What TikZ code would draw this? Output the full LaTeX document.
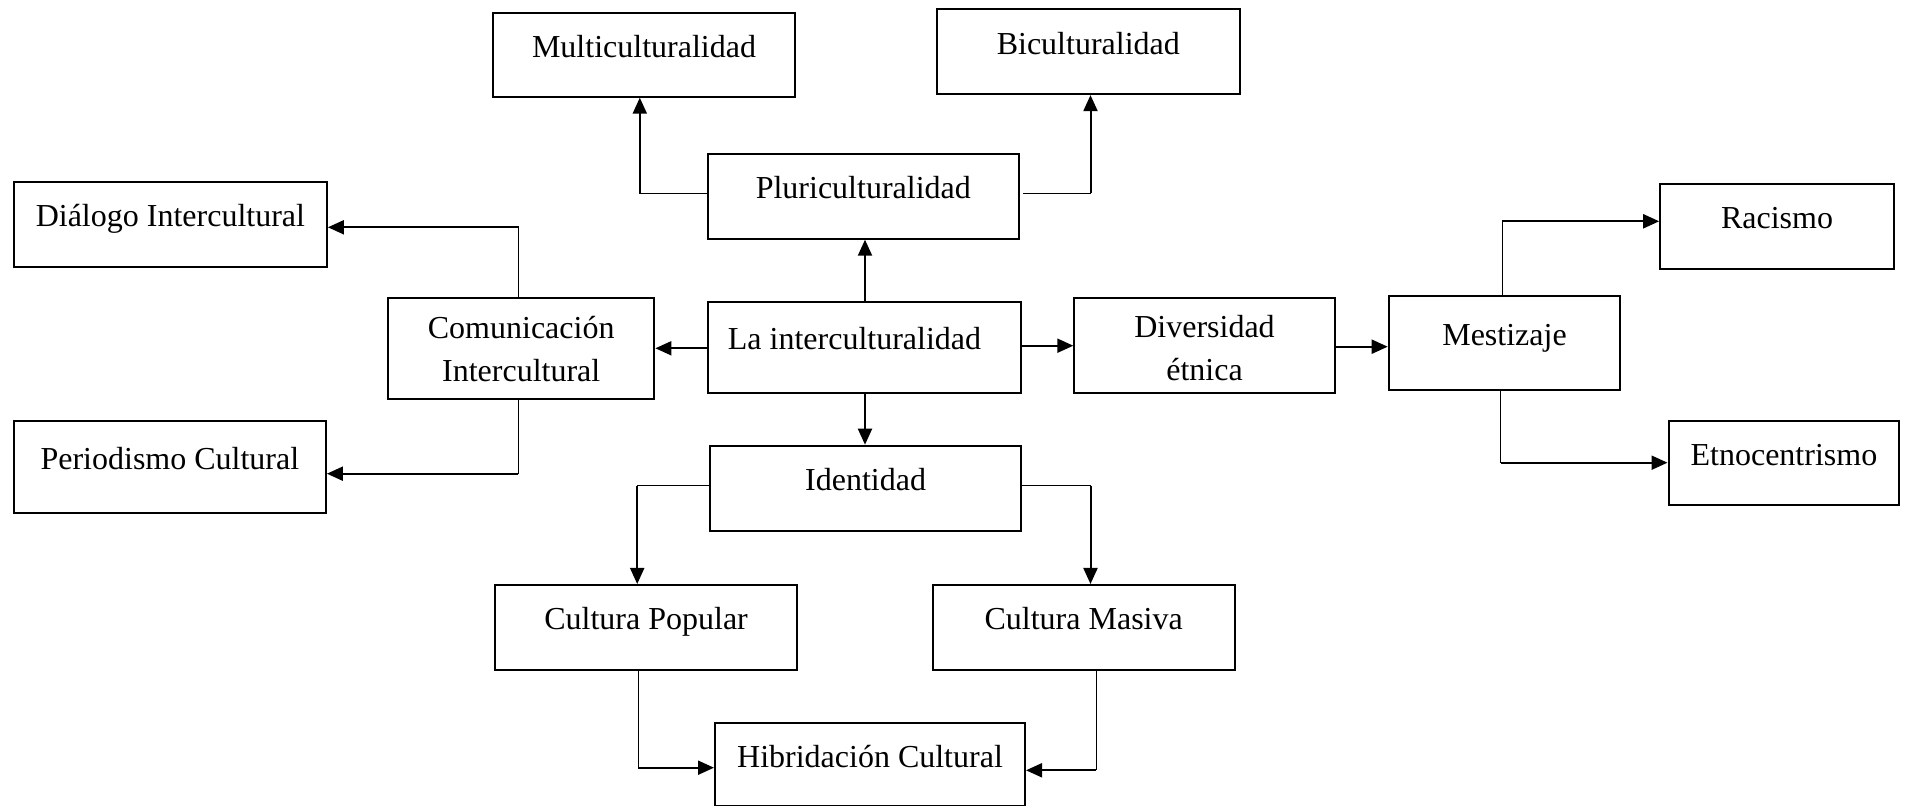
\documentclass[tikz,border=0pt]{standalone}
\usepackage{fontspec}
\setmainfont{Liberation Serif}
\usetikzlibrary{arrows.meta}

\tikzset{
  boxbase/.style={draw, line width=1pt, rectangle, inner sep=0pt,
    font=\fontsize{16}{21.5}\selectfont},
  box/.style={boxbase, text height=8pt, text depth=5.5pt},
  twoline/.style={boxbase, align=center},
  thinln/.style={line width=0.5pt},
  arrln/.style={line width=1pt, -{Triangle[length=8pt,width=7pt]}}
}

\begin{document}
\begin{tikzpicture}[x=0.5pt, y=-0.5pt]
\useasboundingbox (0,0) rectangle (1908,806);

% concept boxes
\node[box, minimum width=151pt, minimum height=42pt] (multi) at (644,54.7) {Multiculturalidad};
\node[box, minimum width=151.6pt, minimum height=42.4pt] (bicult) at (1088.3,51.7) {Biculturalidad};
\node[box, minimum width=155.3pt, minimum height=42.2pt] (pluri) at (863.3,196.5) {Pluriculturalidad};
\node[box, minimum width=156.5pt, minimum height=42.5pt] (dialogo) at (170.4,224.2) {Diálogo Intercultural};
\node[twoline, minimum width=133.2pt, minimum height=50.5pt] (comm) at (521.2,348.8) {Comunicación\\Intercultural};
\node[box, minimum width=156.5pt, minimum height=45.8pt] (inter) at (864.2,347.5) {La interculturalidad\hspace*{9.7pt}};
\node[twoline, minimum width=130.2pt, minimum height=47.5pt] (div) at (1204.5,345.8) {\rule{0pt}{13.5pt}Diversidad\\étnica};
\node[box, minimum width=115.8pt, minimum height=47pt] (mest) at (1504.5,343) {Mestizaje};
\node[box, minimum width=116.8pt, minimum height=42.4pt] (racismo) at (1777,226.3) {Racismo};
\node[box, minimum width=115.4pt, minimum height=42.2pt] (etno) at (1783.9,462.8) {Etnocentrismo};
\node[box, minimum width=156pt, minimum height=46.3pt] (period) at (169.9,467) {Periodismo Cultural};
\node[box, minimum width=155.7pt, minimum height=42.5pt] (ident) at (865.6,488.2) {Identidad};
\node[box, minimum width=151.3pt, minimum height=42.5pt] (cpop) at (646.1,627.5) {Cultura Popular};
\node[box, minimum width=151pt, minimum height=42.5pt] (cmas) at (1083.7,627.5) {Cultura Masiva};
\node[box, minimum width=155pt, minimum height=41.9pt] (hibrid) at (870,764.6) {Hibridación Cultural};

% Pluriculturalidad -> Multiculturalidad / Biculturalidad
\draw[thinln] ([yshift=1.25pt]pluri.west) -- ++(-33.6pt,0) coordinate (k1);
\draw[arrln] (k1) -- (k1 |- multi.south);
\draw[thinln] ([xshift=1.8pt,yshift=1.6pt]pluri.east) -- ++(33.65pt,0) coordinate (k2);
\draw[arrln] (k2) -- (k2 |- bicult.south);

% La interculturalidad -> Pluriculturalidad
\draw[arrln] ([xshift=0.4pt]inter.north) coordinate (k3) -- (k3 |- pluri.south);

% Comunicacion Intercultural -> Dialogo / Periodismo
\draw[thinln] ([xshift=-1.2pt]comm.north) -- ++(0,35pt) coordinate (k4);
\draw[arrln] (k4) -- (k4 -| dialogo.east);
\draw[thinln] ([xshift=-1.4pt]comm.south) -- ++(0,-36.7pt) coordinate (k5);
\draw[arrln] (k5) -- (k5 -| period.east);

% La interculturalidad -> Comunicacion / Diversidad
\draw[arrln] ([yshift=-0.4pt]inter.west) coordinate (k6) -- (k6 -| comm.east);
\draw[arrln] ([yshift=0.9pt]inter.east) coordinate (k7) -- (k7 -| div.west);

% Diversidad etnica -> Mestizaje
\draw[arrln] ([yshift=-0.45pt]div.east) coordinate (k8) -- (k8 -| mest.west);

% Mestizaje -> Racismo / Etnocentrismo
\draw[thinln] ([xshift=-1.1pt]mest.north) -- ++(0,36.85pt) coordinate (k9);
\draw[arrln] (k9) -- (k9 -| racismo.west);
\draw[thinln] ([xshift=-1.9pt]mest.south) -- ++(0,-35.85pt) coordinate (k10);
\draw[arrln] (k10) -- (k10 -| etno.west);

% La interculturalidad -> Identidad
\draw[arrln] ([xshift=0.4pt]inter.south) coordinate (k11) -- (k11 |- ident.north);

% Identidad -> Cultura Popular / Cultura Masiva
\draw[thinln] ([yshift=1.1pt]ident.west) -- ++(-35.85pt,0) coordinate (k12);
\draw[arrln] (k12) -- (k12 |- cpop.north);
\draw[thinln] ([yshift=1.1pt]ident.east) -- ++(34.1pt,0) coordinate (k13);
\draw[arrln] (k13) -- (k13 |- cmas.north);

% Cultura Popular / Masiva -> Hibridacion Cultural
\draw[thinln] ([xshift=-3.95pt]cpop.south) -- ++(0,-48.35pt) coordinate (k14);
\draw[arrln] (k14) -- (k14 -| hibrid.west);
\draw[thinln] ([xshift=6.15pt]cmas.south) -- ++(0,-49.65pt) coordinate (k15);
\draw[arrln] (k15) -- (k15 -| hibrid.east);
\end{tikzpicture}
\end{document}
